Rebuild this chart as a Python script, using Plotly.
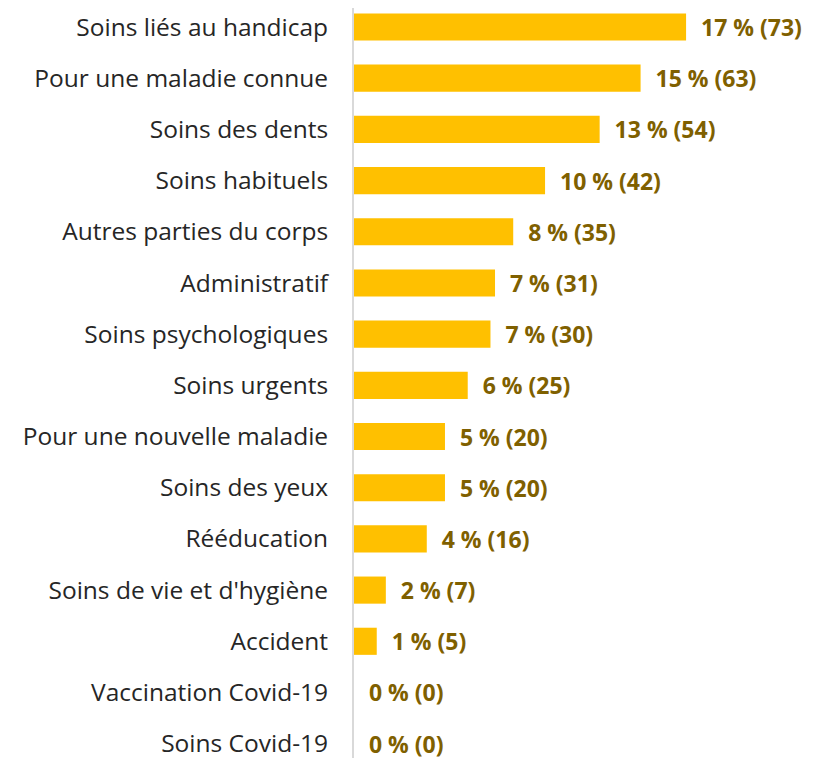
import plotly.graph_objects as go

# categories, top to bottom
categories = [
    "Soins liés au handicap", "Pour une maladie connue", "Soins des dents",
    "Soins habituels", "Autres parties du corps", "Administratif",
    "Soins psychologiques", "Soins urgents", "Pour une nouvelle maladie",
    "Soins des yeux", "Rééducation", "Soins de vie et d'hygiène",
    "Accident", "Vaccination Covid-19", "Soins Covid-19",
]
counts = [73, 63, 54, 42, 35, 31, 30, 25, 20, 20, 16, 7, 5, 0, 0]
percents = [17, 15, 13, 10, 8, 7, 7, 6, 5, 5, 4, 2, 1, 0, 0]

labels = [f"  {p} % ({c})" for p, c in zip(percents, counts)]

fig = go.Figure()
fig.add_trace(go.Bar(
    x=counts, y=categories, orientation="h",
    marker=dict(color="#FFC000", line=dict(width=0)),
    text=labels, textposition="outside", cliponaxis=False,
    constraintext="none",
    textfont=dict(family="Open Sans", size=23, color="#7F6000", weight="bold"),
    hoverinfo="skip",
))

fig.update_layout(
    width=805, height=750,
    margin=dict(l=346, r=0, t=0, b=0),
    plot_bgcolor="white", paper_bgcolor="white",
    bargap=0.47, showlegend=False,
    font=dict(family="Open Sans", size=24.5, color="#262626"),
)
fig.update_xaxes(range=[0, 100.9], visible=False, showgrid=False)
fig.update_yaxes(
    type="category", range=[14.28, -0.371],
    showline=True, linecolor="#D9D9D9", linewidth=2,
    showgrid=False, ticks="", ticklabelstandoff=19,
    tickfont=dict(family="Open Sans", size=24.5, color="#262626"),
)

fig.write_html("out.html")
